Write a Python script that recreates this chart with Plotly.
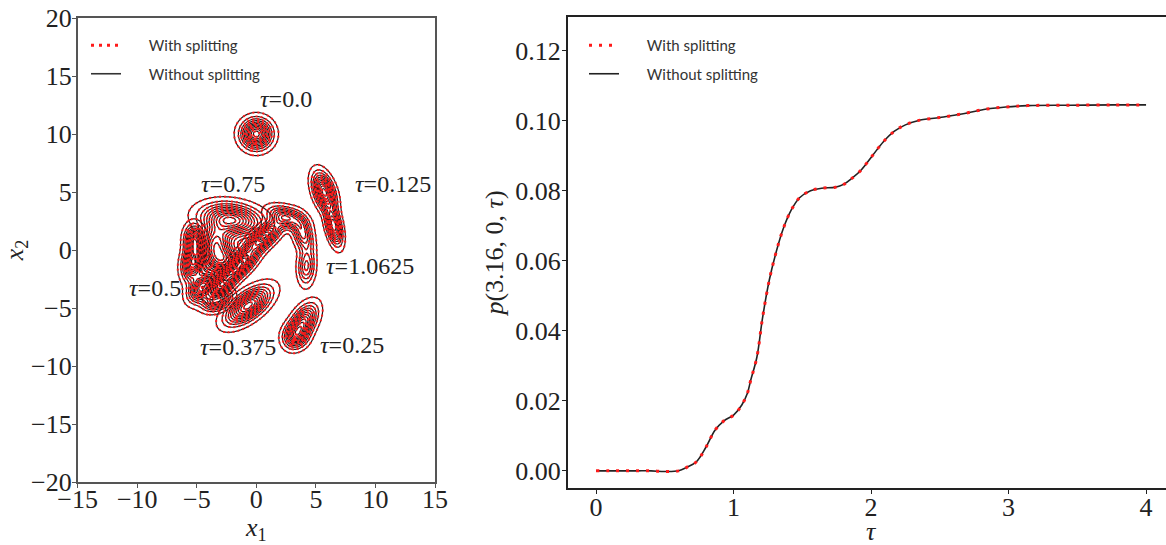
import numpy as np
import plotly.graph_objects as go

# ---------------- data: right panel ----------------
TAU = [0.0, 0.1, 0.2, 0.3, 0.4, 0.5, 0.6, 0.66, 0.73, 0.80, 0.865, 0.93, 1.0, 1.06,
       1.10, 1.125, 1.17, 1.21, 1.26, 1.31, 1.36, 1.42, 1.48, 1.56, 1.64, 1.74, 1.80,
       1.86, 1.93, 2.01, 2.09, 2.17, 2.25, 2.34, 2.50, 2.66, 2.82, 2.98, 3.14, 3.45,
       3.77, 4.0]
P_WITH = [0.0, 0.0, 0.0, 0.0, 0.0, -0.0002, 0.0, 0.001, 0.0026, 0.0068, 0.0116, 0.0143,
          0.0159, 0.0188, 0.0221, 0.0259, 0.0325, 0.0435, 0.0545, 0.0625, 0.069, 0.0745,
          0.078, 0.080, 0.0807, 0.081, 0.0818, 0.0835, 0.086, 0.090, 0.094, 0.097,
          0.0988, 0.100, 0.1009, 0.1019, 0.1032, 0.1039, 0.1043, 0.1044, 0.1045, 0.1045]
P_WITHOUT = list(P_WITH)

# ---------------- data: left panel (density blobs, one per time) ----------------
# each node: (centre x1, centre x2, sigma major, sigma minor, angle deg, amplitude)
BLOB_T0000 = [(0.0, 10.0, 0.76, 0.76, 0, 1.0)]
BLOB_T0125 = [(5.7, 5.0, 1.0, 0.48, -72, 1.0), (6.5, 2.1, 1.0, 0.36, -78, 0.85)]
BLOB_T0250 = [(3.9, -6.3, 1.05, 0.55, 60, 1.0), (3.3, -7.4, 0.65, 0.6, 60, 0.65)]
BLOB_T0375 = [(-0.7, -4.8, 1.3, 0.62, 38, 1.0)]
BLOB_T0500 = [(-5.2, 0.8, 0.8, 0.48, 92, 0.85), (-5.3, -1.1, 0.9, 0.52, 80, 1.0),
              (-4.5, -3.2, 0.85, 0.55, 50, 1.0), (-3.3, -4.3, 0.75, 0.5, 25, 0.8)]
BLOB_T0750 = [(-2.1, 2.6, 1.5, 0.8, -8, 1.0), (-3.4, 0.6, 1.0, 0.8, 80, 0.8),
              (-2.8, -0.9, 0.9, 0.75, 0, 0.7)]
BLOB_T10625 = [(4.2, -1.4, 0.95, 0.42, 88, 0.45), (3.9, 1.4, 0.95, 0.46, 105, 0.55),
               (2.5, 2.8, 0.95, 0.5, 160, 0.65), (0.6, 1.1, 1.15, 0.48, 42, 0.9),
               (-1.4, -1.3, 1.15, 0.48, 45, 1.0), (-3.0, -3.1, 0.85, 0.45, 42, 0.7)]
BLOBS = [BLOB_T0000, BLOB_T0125, BLOB_T0250, BLOB_T0375, BLOB_T0500, BLOB_T0750, BLOB_T10625]

TAU_LABELS = ["0.0", "0.125", "0.25", "0.375", "0.5", "0.75", "1.0625"]
LABEL_X = [2.5, 11.5, 8.0, -1.5, -8.5, -2.0, 9.5]
LABEL_Y = [13.0, 5.7, -8.2, -8.4, -3.3, 5.7, -1.35]

LEFT_YTICKS = [-20, -15, -10, -5, 0, 5, 10, 15, 20]
LEFT_XTICKS = [-15, -10, -5, 0, 5, 10, 15]
RIGHT_YTICKS = [0.0, 0.02, 0.04, 0.06, 0.08, 0.10, 0.12]
RIGHT_XTICKS = [0, 1, 2, 3, 4]


def blob_field(nodes):
    arr = np.array(nodes, dtype=float)
    pad = 3.2 * arr[:, 2].max()
    gx = np.arange(arr[:, 0].min() - pad, arr[:, 0].max() + pad, 0.07)
    gy = np.arange(arr[:, 1].min() - pad, arr[:, 1].max() + pad, 0.07)
    X, Y = np.meshgrid(gx, gy)
    Z = np.zeros_like(X)
    for x0, y0, a, b, ang, amp in nodes:
        t = np.deg2rad(ang)
        dx, dy = X - x0, Y - y0
        u = dx * np.cos(t) + dy * np.sin(t)
        v = -dx * np.sin(t) + dy * np.cos(t)
        Z += amp * np.exp(-0.5 * ((u / a) ** 2 + (v / b) ** 2))
    Z /= Z.max()
    return np.round(gx, 3), np.round(gy, 3), np.round(Z, 4)


SERIF = "Liberation Serif, Times New Roman, serif"
SANS = "Lato, Noto Sans, sans-serif"
RED = "#ff1a1a"
DARK = "#2a1a1a"
GAP = "\u00a0" * 6

fig = go.Figure()

for nodes in BLOBS:
    gx, gy, Z = blob_field(nodes)
    common = dict(x=gx, y=gy, z=Z, xaxis="x", yaxis="y", showscale=False,
                  hoverinfo="skip", showlegend=False,
                  contours=dict(coloring="none", start=0.05, end=0.95, size=0.09))
    fig.add_trace(go.Contour(line=dict(color=DARK, width=1.2), **common))
    fig.add_trace(go.Contour(line=dict(color=RED, width=2.0, dash="2px,3px"), **common))

# legend entries for left panel
fig.add_trace(go.Scatter(x=[None], y=[None], mode="lines", name=GAP + "With splitting",
                         line=dict(color=RED, width=3, dash="3px,5px"),
                         xaxis="x", yaxis="y", legend="legend", legendgroup="a"))
fig.add_trace(go.Scatter(x=[None], y=[None], mode="lines", name=GAP + "Without splitting",
                         line=dict(color="#333333", width=1.6),
                         xaxis="x", yaxis="y", legend="legend", legendgroup="b"))

# right panel curves
fig.add_trace(go.Scatter(x=TAU, y=P_WITHOUT, mode="lines", name=GAP + "Without splitting",
                         line=dict(color="#222222", width=1.6, shape="spline"),
                         xaxis="x2", yaxis="y2", legend="legend2", legendgroup="d",
                         legendrank=2))
fig.add_trace(go.Scatter(x=TAU, y=P_WITH, mode="lines", name=GAP + "With splitting",
                         line=dict(color=RED, width=3, dash="3px,7px", shape="spline"),
                         xaxis="x2", yaxis="y2", legend="legend2", legendgroup="c",
                         legendrank=1))

for txt, lx, ly in zip(TAU_LABELS, LABEL_X, LABEL_Y):
    fig.add_annotation(x=lx, y=ly, xref="x", yref="y", text="<i>τ</i>=" + txt,
                       showarrow=False, font=dict(family=SERIF, size=24, color="#222"))

W, H = 1166, 545
TICKFONT = dict(family=SERIF, size=26, color="#222")
TITLEFONT = dict(family=SERIF, size=26, color="#222")

# x-axis title of right panel, placed as a paper annotation under the axis
fig.add_annotation(x=2, xref="x2", y=(H - 531) / H, yref="paper", text="<i>τ</i>",
                   showarrow=False, yanchor="middle", font=TITLEFONT)


def ax(color, lw, **kw):
    d = dict(showline=True, linecolor=color, linewidth=lw, ticks="outside",
             ticklen=4, tickcolor=color, showgrid=False, zeroline=False,
             automargin=False, tickfont=TICKFONT)
    d.update(kw)
    return d


LEGEND_FONT = dict(family=SANS, size=15, color="#333")

fig.update_layout(
    width=W, height=H, margin=dict(l=0, r=0, t=0, b=0),
    plot_bgcolor="white", paper_bgcolor="white",
    xaxis=ax("#555", 1.6, domain=[77.7 / W, 435 / W], range=[-15, 15],
             tickvals=LEFT_XTICKS, mirror=True, anchor="y", ticklabelstandoff=-11,
             title=dict(text="<i>x</i><sub>1</sub>", standoff=2, font=TITLEFONT)),
    yaxis=ax("#555", 1.6, domain=[1 - 482 / H, 1 - 18 / H], range=[-20, 20],
             tickvals=LEFT_YTICKS, mirror=True, anchor="x", ticklabelstandoff=-5,
             title=dict(text="<i>x</i><sub>2</sub>", standoff=6, font=TITLEFONT)),
    xaxis2=ax("#222", 2, domain=[568 / W, 1.0], range=[-0.204, 4.145],
              tickvals=RIGHT_XTICKS, mirror=True, anchor="y2", ticklabelstandoff=-9),
    yaxis2=ax("#222", 2, domain=[1 - 488 / H, 1 - 17 / H], range=[-0.0049, 0.1296],
              tickvals=RIGHT_YTICKS, tickformat=".2f", anchor="x2", ticklabelstandoff=-4,
              title=dict(text="<i>p</i>(3.16, 0, <i>τ</i>)", standoff=4, font=TITLEFONT)),
    legend=dict(x=86 / W, y=1 - 29 / H, xanchor="left", yanchor="top",
                bgcolor="rgba(0,0,0,0)", font=LEGEND_FONT,
                traceorder="grouped", tracegroupgap=6, itemwidth=30),
    legend2=dict(x=584 / W, y=1 - 29 / H, xanchor="left", yanchor="top",
                 bgcolor="rgba(0,0,0,0)", font=LEGEND_FONT,
                 traceorder="grouped", tracegroupgap=6, itemwidth=30),
)

fig.write_html("out.html", config={"displayModeBar": False},
               post_script="document.body.style.margin='0';")
